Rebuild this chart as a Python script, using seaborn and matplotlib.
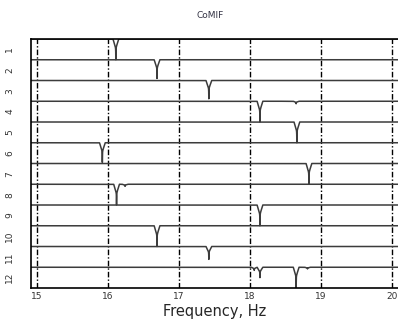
import numpy as np
import pandas as pd
import matplotlib
matplotlib.use("Agg")
import matplotlib.pyplot as plt
import seaborn as sns

# Mode rows and the frequencies (Hz) where each CoMIF curve dips, with dip depth (0..1 of a row)
row_labels = ["1", "2", "3", "4", "5", "6", "7", "8", "9", "10", "11", "12"]
dip_freqs = [
    [16.11],
    [16.69],
    [17.42],
    [18.14, 18.65],
    [18.66],
    [15.92],
    [18.83],
    [16.12, 16.24],
    [18.14],
    [16.69],
    [17.42],
    [18.06, 18.14, 18.65, 18.81],
]
dip_depths = [
    [1.0],
    [0.9],
    [0.88],
    [1.0, 0.12],
    [1.0],
    [0.95],
    [1.0],
    [1.0, 0.1],
    [1.0],
    [1.0],
    [0.62],
    [0.15, 0.5, 1.0, 0.08],
]
x_ticks = [15, 16, 17, 18, 19, 20]


def dip_shape(u):
    # shallow V-shaped notch plus a narrow deep stem
    notch = np.clip(1.0 - np.abs(u) / 0.04, 0, None)
    stem = 1.0 / (1.0 + (u / 0.0012) ** 2)
    return 0.45 * notch + 0.55 * stem


# Frequency axis for the curves
freq = np.linspace(14.9, 20.1, 26001)

frames = []
for i, (fs, ds) in enumerate(zip(dip_freqs, dip_depths)):
    drop = np.zeros_like(freq)
    for f0, d in zip(fs, ds):
        drop += d * dip_shape(freq - f0)
    drop = np.clip(drop, 0, 1)
    frames.append(pd.DataFrame({"Frequency": freq,
                                "offset": i + drop,
                                "mode": row_labels[i]}))
df = pd.concat(frames, ignore_index=True)

sns.set_style("white")
plt.rcParams["font.family"] = ["DejaVu Sans"]

fig = plt.figure(figsize=(3.98, 3.25), dpi=100)
ax = fig.add_axes([31 / 398, 37 / 325, 367 / 398, 249 / 325])

sns.lineplot(data=df, x="Frequency", y="offset", hue="mode",
             palette=["#3c3c3c"] * len(row_labels), legend=False,
             linewidth=1.1, estimator=None, sort=False, ax=ax)

ax.set_xlim(14.915, 20.085)
ax.set_ylim(12, 0)

# dash-dot vertical grid at the integer frequencies
for xv in x_ticks:
    ax.axvline(xv, color="black", linewidth=1.0,
               linestyle=(0, (4, 1.5, 1, 1.5)), zorder=1)

ax.set_xticks(x_ticks)
ax.set_xticklabels([str(t) for t in x_ticks], fontsize=6.5, color="#333333")
ax.set_yticks(np.arange(len(row_labels)) + 0.5)
ax.set_yticklabels(row_labels, rotation=90, fontsize=6.5, va="center",
                   color="#333333")
ax.set_yticks(np.arange(1, len(row_labels)), minor=True)
ax.tick_params(axis="y", which="major", length=0, pad=12)
ax.tick_params(axis="y", which="minor", length=5, direction="inout", width=0.8)
ax.tick_params(axis="x", length=0, pad=3)

for side in ("left", "top", "bottom"):
    ax.spines[side].set_color("black")
    ax.spines[side].set_linewidth(1.2)
ax.spines["right"].set_visible(False)

ax.set_xlabel("Frequency, Hz", fontsize=10.5, labelpad=2)
ax.set_ylabel("")
fig.text(0.528, 1 - 15 / 325, "CoMIF", ha="center", va="center",
         fontsize=6.5, color="#333344")

fig.savefig("out.png", dpi=100)
